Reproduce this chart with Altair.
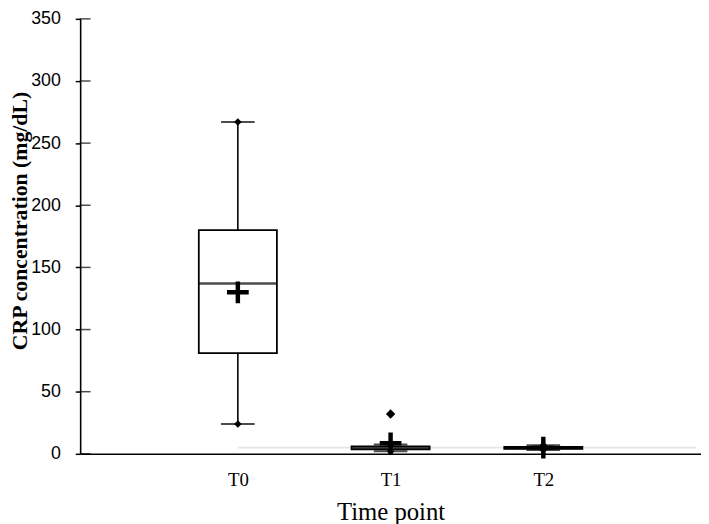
import altair as alt
import pandas as pd

# ---- data ----
categories = ["T0", "T1", "T2"]
positions = [1, 2, 3]
whisker_low = [24, 2, 3]
q1 = [81, 3.5, 4]
median = [137, 4.7, 4.7]
q3 = [180, 6, 5.5]
whisker_high = [267, 7.5, 7]
means = [130, 8.5, 5]
outlier_pos = [2]
outlier_val = [32]
y_ticks = [0, 50, 100, 150, 200, 250, 300, 350]
x_domain = [0, 4]
faint_level = [5]

box = pd.DataFrame(dict(cat=categories, pos=positions, lo=whisker_low, q1=q1,
                        med=median, q3=q3, hi=whisker_high, mean=means))
ends = pd.DataFrame(dict(pos=positions * 2, v=whisker_low + whisker_high))
outl = pd.DataFrame(dict(pos=outlier_pos, v=outlier_val))
ticks = pd.DataFrame(dict(v=y_ticks, x=[x_domain[0]] * len(y_ticks)))
faint = pd.DataFrame(dict(x1=[positions[0]], x2=[x_domain[1]], v=faint_level))

label_expr = "[" + ",".join(f"'{c}'" for c in categories) + "][datum.value - 1]"

X_TITLE = "Time point"
Y_TITLE = "CRP concentration (mg/dL)"

xscale = alt.Scale(domain=x_domain, nice=False, zero=False)
yscale = alt.Scale(domain=[0, 350], nice=False)

xaxis = alt.Axis(values=positions, labelExpr=label_expr, ticks=False, grid=False,
                 labelFont="Liberation Serif", labelFontSize=19, labelPadding=17,
                 titleFont="Liberation Serif", titleFontSize=25, titleFontWeight="normal",
                 titlePadding=10, labelColor="black", titleColor="black",
                 domainColor="black", domainWidth=1.6)
yaxis = alt.Axis(values=y_ticks, grid=False, tickSize=5, tickWidth=1.5, tickColor="black",
                 labelFont="Liberation Sans", labelFontSize=18, labelPadding=15,
                 titleFont="Liberation Serif", titleFontSize=22, titleFontWeight="bold",
                 titleX=-54, titleY=204, titleBaseline="alphabetic", titleAngle=270,
                 titleAlign="center",
                 labelColor="black", titleColor="black",
                 domainColor="black", domainWidth=1.6)


def X(field):
    return alt.X(field, type="quantitative", scale=xscale, axis=xaxis, title=X_TITLE)


def Y(field):
    return alt.Y(field, type="quantitative", scale=yscale, axis=yaxis, title=Y_TITLE)


faint_line = alt.Chart(faint).mark_rule(color="#e6e6e6", strokeWidth=2).encode(
    x=X("x1"), x2="x2", y=Y("v"))

whisk_lo = alt.Chart(box).mark_rule(color="black", strokeWidth=1.6).encode(
    x=X("pos"), y=Y("lo"), y2="q1")
whisk_hi = alt.Chart(box).mark_rule(color="black", strokeWidth=1.6).encode(
    x=X("pos"), y=Y("q3"), y2="hi")

caps = alt.Chart(ends).mark_tick(orient="horizontal", size=34, thickness=2, color="black").encode(
    x=X("pos"), y=Y("v"))

boxes = alt.Chart(box).mark_bar(size=79, fill="white", stroke="black", strokeWidth=1.8).encode(
    x=X("pos"), y=Y("q1"), y2="q3")

med = alt.Chart(box).mark_tick(orient="horizontal", size=79, thickness=2.5, color="black").encode(
    x=X("pos"), y=Y("med"))

end_pts = alt.Chart(ends).mark_point(shape="diamond", filled=True, size=60, color="black", opacity=1).encode(
    x=X("pos"), y=Y("v"))

out_pts = alt.Chart(outl).mark_point(shape="diamond", filled=True, size=90, color="black", opacity=1).encode(
    x=X("pos"), y=Y("v"))

mean_pts = alt.Chart(box).mark_point(shape="M-1,0H1M0,-1V1", filled=False, size=484,
                                     strokeWidth=4.5, color="black", opacity=1).encode(
    x=X("pos"), y=Y("mean"))

inner_ticks = alt.Chart(ticks).mark_tick(orient="horizontal", size=11, thickness=1.5, color="black").encode(
    x=X("x"), y=Y("v"))

chart = alt.layer(faint_line, whisk_lo, whisk_hi, caps, boxes, med, end_pts, out_pts,
                  mean_pts, inner_ticks).properties(
    width=628, height=440, autosize="none",
    padding={"left": 73, "top": 8, "right": 0, "bottom": 68},
    background="white",
).configure_view(stroke=None)

chart.save("out.html", embed_options={"renderer": "svg", "actions": False})
